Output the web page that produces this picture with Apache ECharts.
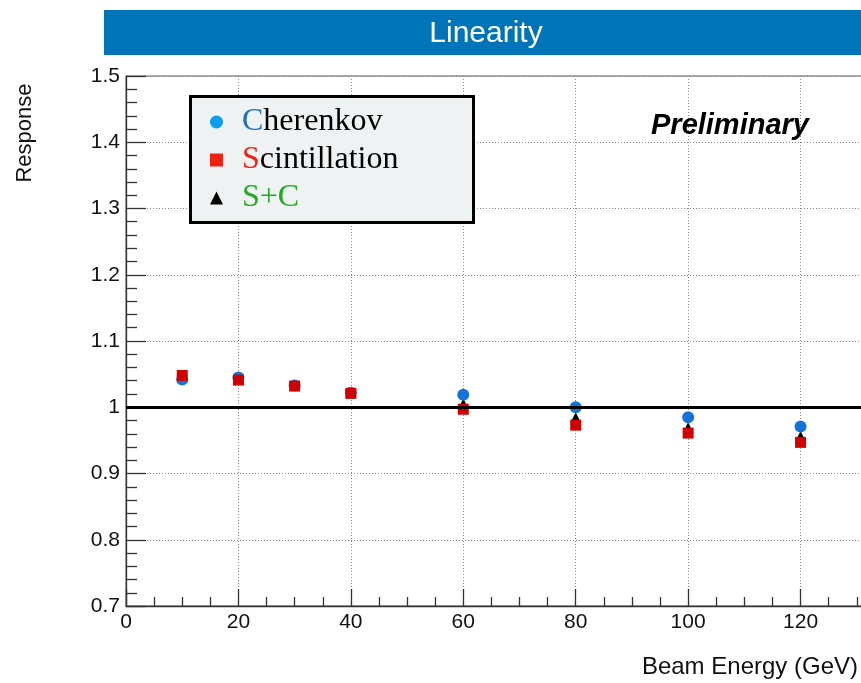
<!DOCTYPE html>
<html>
<head>
<meta charset="utf-8">
<script src="https://cdn.jsdelivr.net/npm/echarts@6/dist/echarts.min.js"></script>
<style>
html,body{margin:0;padding:0;background:#fff;overflow:hidden;width:861px;height:683px;}
#chart{width:913px;height:683px;}
</style>
</head>
<body>
<div id="chart"></div>
<script>
const energies = [10, 20, 30, 40, 60, 80, 100, 120];
const cherenkov = [1.042, 1.045, 1.033, 1.022, 1.019, 1.000, 0.985, 0.971];
const scintillation = [1.048, 1.041, 1.032, 1.021, 0.997, 0.973, 0.961, 0.947];
const sPlusC = [1.045, 1.043, 1.033, 1.022, 1.005, 0.984, 0.969, 0.956];
const seriesNames = ['Cherenkov', 'Scintillation', 'S+C'];
const titleText = 'Linearity';
const xTitle = 'Beam Energy (GeV)';
const yTitle = 'Response';
const watermark = 'Preliminary';
const referenceValue = 1;

function pairs(xs, ys) { return xs.map((x, i) => [x, ys[i]]); }

const chart = echarts.init(document.getElementById('chart'), null, {renderer: 'canvas'});
const sansFont = '"Liberation Sans", Arial, Helvetica, sans-serif';
const serifFont = '"Liberation Serif", "DejaVu Serif", serif';

const option = {
  animation: false,
  backgroundColor: '#ffffff',
  grid: {
    left: 126, top: 76, right: 0, bottom: 77,
    show: true, borderColor: '#555', borderWidth: 1, backgroundColor: 'transparent'
  },
  xAxis: {
    type: 'value', min: 0, max: 140, interval: 20,
    axisLine: {show: true, onZero: false, lineStyle: {color: '#333', width: 1.3}},
    axisTick: {show: true, inside: true, length: 17, lineStyle: {color: '#333', width: 1.3}},
    minorTick: {show: true, splitNumber: 4, length: 9, lineStyle: {color: '#333', width: 1.3}},
    axisLabel: {color: '#111', fontSize: 21, fontFamily: sansFont, margin: 6, showMaxLabel: false},
    splitLine: {show: true, lineStyle: {color: '#888', type: [1, 2], width: 1}}
  },
  yAxis: {
    type: 'value', min: 0.7, max: 1.5, interval: 0.1,
    axisLine: {show: true, onZero: false, lineStyle: {color: '#333', width: 1.3}},
    axisTick: {show: true, inside: true, length: 20, lineStyle: {color: '#333', width: 1.3}},
    minorTick: {show: true, splitNumber: 5, length: 11, lineStyle: {color: '#333', width: 1.3}},
    axisLabel: {color: '#111', fontSize: 21, fontFamily: sansFont, margin: 6,
      formatter: v => String(Math.round(v * 10) / 10)},
    splitLine: {show: true, lineStyle: {color: '#888', type: [1, 2], width: 1}}
  },
  legend: {
    show: true, orient: 'vertical', left: 210, top: 106, padding: 0,
    itemGap: 6, itemWidth: 13, itemHeight: 13, z: 10,
    data: [
      {name: seriesNames[0], icon: 'circle', itemStyle: {color: '#0a9ef0', opacity: 1}},
      {name: seriesNames[1], icon: 'rect', itemStyle: {color: '#ee2211', opacity: 1}},
      {name: seriesNames[2], icon: 'triangle', itemStyle: {color: '#000000', opacity: 1}}
    ],
    formatter: function (name) {
      if (name === seriesNames[0]) return '{g|}{c|' + name.charAt(0) + '}{t|' + name.slice(1) + '}';
      if (name === seriesNames[1]) return '{g|}{s|' + name.charAt(0) + '}{t|' + name.slice(1) + '}';
      return '{g|}{sc|' + name + '}';
    },
    textStyle: {
      fontFamily: serifFont, fontSize: 32, lineHeight: 30, color: '#000',
      rich: {
        g: {width: 14},
        c: {color: '#1f6fc0', fontFamily: serifFont, fontSize: 32},
        s: {color: '#ee2211', fontFamily: serifFont, fontSize: 32},
        t: {color: '#000', fontFamily: serifFont, fontSize: 32},
        sc: {color: '#22aa22', fontFamily: serifFont, fontSize: 32}
      }
    }
  },
  graphic: [
    {type: 'rect', left: 104, top: 10, z: 100,
      shape: {width: 809, height: 45}, style: {fill: '#0074b8'}},
    {type: 'text', x: 486, y: 34, z: 101,
      style: {text: titleText, fill: '#fff', font: '30px ' + sansFont, textAlign: 'center', textVerticalAlign: 'middle'}},
    {type: 'rect', left: 189, top: 95, z: 5,
      shape: {width: 283, height: 126}, style: {fill: '#eef2f2', stroke: '#000', lineWidth: 3}},
    {type: 'text', x: 651, y: 126, z: 6,
      style: {text: watermark, fill: '#000', font: 'italic bold 29px ' + sansFont, textAlign: 'left', textVerticalAlign: 'middle'}},
    {type: 'text', x: 858, y: 667, z: 6,
      style: {text: xTitle, fill: '#111', font: '24px ' + sansFont, textAlign: 'right', textVerticalAlign: 'middle'}},
    {type: 'text', x: 25, y: 133, rotation: Math.PI / 2, z: 6,
      style: {text: yTitle, fill: '#111', font: '22px ' + sansFont, textAlign: 'center', textVerticalAlign: 'middle'}}
  ],
  series: [
    {
      name: seriesNames[2], type: 'scatter', symbol: 'triangle', symbolSize: 11, z: 2,
      itemStyle: {color: '#000', opacity: 1}, data: pairs(energies, sPlusC),
      markLine: {
        silent: true, symbol: 'none', label: {show: false},
        lineStyle: {color: '#000', width: 3, type: 'solid', opacity: 1},
        data: [{yAxis: referenceValue}]
      }
    },
    {
      name: seriesNames[0], type: 'scatter', symbol: 'circle', symbolSize: 12, z: 3,
      itemStyle: {color: '#1473d8', opacity: 1}, data: pairs(energies, cherenkov)
    },
    {
      name: seriesNames[1], type: 'scatter', symbol: 'rect', symbolSize: 11, z: 4,
      itemStyle: {color: '#d00000', opacity: 1}, data: pairs(energies, scintillation)
    }
  ]
};
chart.setOption(option);
</script>
</body>
</html>
